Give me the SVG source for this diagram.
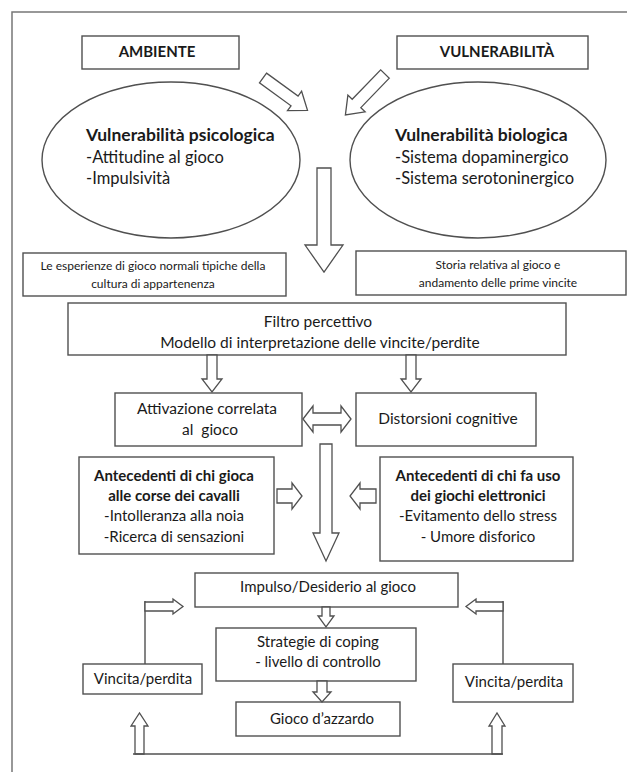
<svg xmlns="http://www.w3.org/2000/svg" width="627" height="772" viewBox="0 0 627 772">
<style>
.box{fill:#fff;stroke:#505050;stroke-width:1.4}
.arr{fill:#fff;stroke:#505050;stroke-width:1.3;stroke-linejoin:miter}
.ln{fill:none;stroke:#505050;stroke-width:1.4}
text{font-family:Lato,"Open Sans","Liberation Sans",sans-serif;fill:#1a1a1a}
.c{text-anchor:middle}
.b{font-weight:bold}
.s14{font-size:15px}
.sb{font-size:15px}
.sh{font-size:17.5px}
.s15{font-size:16.5px}
.s11{font-size:12px}
.sf{font-size:15.5px}
</style>
<rect x="0" y="0" width="627" height="772" fill="#fff"/>
<rect x="12" y="12" width="700" height="800" fill="none" stroke="#777" stroke-width="1.5"/>

<g id="ambiente">
<rect class="box" x="82" y="36" width="157" height="33"/>
<text class="c b sb" x="157" y="57">AMBIENTE</text>
</g>
<g id="vulnerabilita">
<rect class="box" x="397" y="36" width="191" height="33"/>
<text class="c b sb" x="497" y="57">VULNERABILITÀ</text>
</g>
<g id="vuln-psicologica">
<ellipse class="box" cx="171" cy="160" rx="129" ry="78"/>
<text class="b sh" x="86" y="141">Vulnerabilità psicologica</text>
<text class="s15" x="86" y="163">-Attitudine al gioco</text>
<text class="s15" x="86" y="184">-Impulsività</text>
</g>
<g id="vuln-biologica">
<ellipse class="box" cx="478" cy="160" rx="128" ry="78"/>
<text class="b sh" x="395" y="141">Vulnerabilità biologica</text>
<text class="s15" x="395" y="163">-Sistema dopaminergico</text>
<text class="s15" x="395" y="184">-Sistema serotoninergico</text>
</g>
<g id="esperienze">
<rect class="box" x="23" y="253" width="263" height="43"/>
<text class="c s11" x="153" y="270">Le esperienze di gioco normali tipiche della</text>
<text class="c s11" x="153" y="288">cultura di appartenenza</text>
</g>
<g id="storia">
<rect class="box" x="356" y="251" width="270" height="44"/>
<text class="c s11" x="498" y="269">Storia relativa al gioco e</text>
<text class="c s11" x="498" y="287">andamento delle prime vincite</text>
</g>
<g id="filtro">
<rect class="box" x="68" y="303" width="498" height="52"/>
<text class="c sf" x="318" y="327">Filtro percettivo</text>
<text class="c sf" x="320" y="348">Modello di interpretazione delle vincite/perdite</text>
</g>
<g id="attivazione">
<rect class="box" x="115" y="393" width="187" height="53"/>
<text class="c sf" x="207" y="414">Attivazione correlata</text>
<text class="c sf" x="210" y="435" xml:space="preserve">al  gioco</text>
</g>
<g id="distorsioni">
<rect class="box" x="356" y="393" width="180" height="53"/>
<text class="c sf" x="448" y="424">Distorsioni cognitive</text>
</g>
<g id="antecedenti-cavalli">
<rect class="box" x="79" y="457" width="195" height="97"/>
<text class="c b sb" x="174" y="481">Antecedenti di chi gioca</text>
<text class="c b sb" x="174" y="501">alle corse dei cavalli</text>
<text class="c s14" x="174" y="521">-Intolleranza alla noia</text>
<text class="c s14" x="174" y="542">-Ricerca di sensazioni</text>
</g>
<g id="antecedenti-elettronici">
<rect class="box" x="380" y="457" width="193" height="104"/>
<text class="c b sb" x="478" y="481">Antecedenti di chi fa uso</text>
<text class="c b sb" x="478" y="501">dei giochi elettronici</text>
<text class="c s14" x="478" y="521">-Evitamento dello stress</text>
<text class="c s14" x="478" y="542">- Umore disforico</text>
</g>
<g id="impulso">
<rect class="box" x="195" y="573" width="263" height="34"/>
<text class="c s14" x="328" y="592">Impulso/Desiderio al gioco</text>
</g>
<g id="strategie">
<rect class="box" x="216" y="628" width="200" height="53"/>
<text class="c s14" x="318" y="647">Strategie di coping</text>
<text class="c s14" x="318" y="667">- livello di controllo</text>
</g>
<g id="gioco">
<rect class="box" x="236" y="702" width="164" height="34"/>
<text class="c s14" x="322" y="724">Gioco d’azzardo</text>
</g>
<g id="vincita-sx">
<rect class="box" x="83" y="664" width="119" height="30"/>
<text class="c s14" x="143" y="684">Vincita/perdita</text>
</g>
<g id="vincita-dx">
<rect class="box" x="453" y="664" width="120" height="38"/>
<text class="c s14" x="514" y="687">Vincita/perdita</text>
</g>

<g id="connectors">
<polygon class="arr" transform="translate(263,78) rotate(36)" points="0,-6 39,-6 39,-12 55,0 39,12 39,6 0,6"/>
<polygon class="arr" transform="translate(385,74) rotate(134)" points="0,-6 41,-6 41,-12 57,0 41,12 41,6 0,6"/>
<polygon class="arr" points="317,168 331,168 331,245 343,245 324,272 305,245 317,245"/>
<polygon class="arr" points="207,355 217,355 217,379 222,379 212,392 202,379 207,379"/>
<polygon class="arr" points="406,355 416,355 416,379 421,379 411,392 401,379 406,379"/>
<polygon class="arr" points="303,419 313,406 313,413 341,413 341,406 351,419 341,432 341,425 313,425 313,432"/>
<polygon class="arr" points="277,489 292,489 292,483 302,496 292,509 292,503 277,503"/>
<polygon class="arr" points="376,489 360,489 360,483 350,496 360,509 360,503 376,503"/>
<polygon class="arr" points="320,444 332,444 332,533 339,533 326,561 313,533 320,533"/>
<polygon class="arr" points="322,607 330,607 330,616 334,616 326,627 318,616 322,616"/>
<polygon class="arr" points="317,681 327,681 327,692 331,692 322,702 313,692 317,692"/>
<path class="ln" d="M145,664 V601"/>
<polygon class="arr" points="145,602 173,602 173,599 183,606.5 173,614 173,611 145,611"/>
<path class="ln" d="M503,664 V601"/>
<polygon class="arr" points="503,602 476,602 476,599 466,606.5 476,614 476,611 503,611"/>
<polygon class="arr" points="135,754 135,726 131,726 139.5,713 148,726 144,726 144,754"/>
<polygon class="arr" points="492,754 492,726 489,726 497,713 505,726 502,726 502,754"/>
<path class="ln" d="M133,754 H503"/>
</g>
</svg>
